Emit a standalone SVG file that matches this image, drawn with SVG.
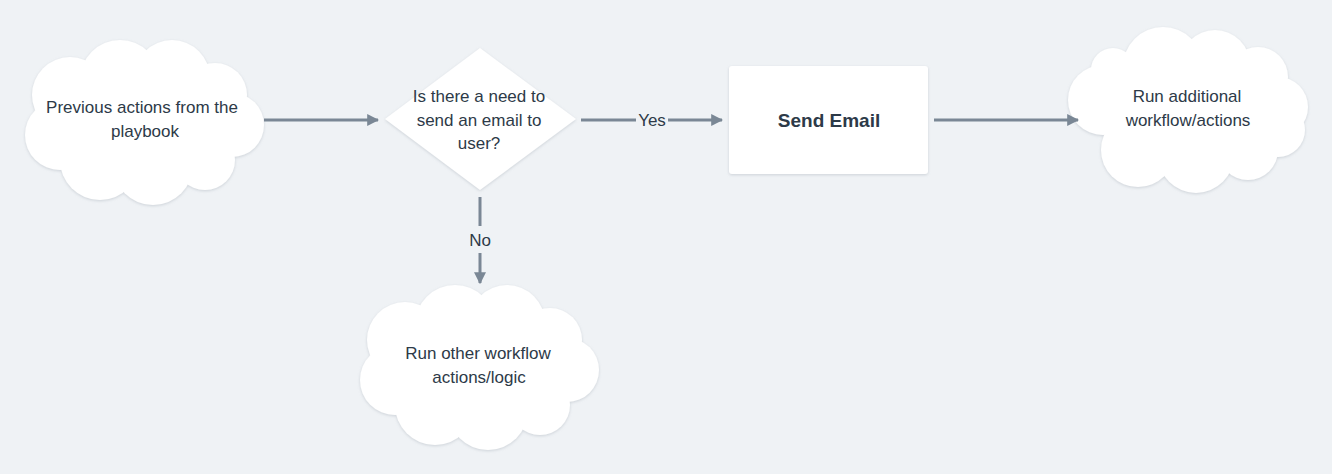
<svg xmlns="http://www.w3.org/2000/svg" width="1332" height="474" viewBox="0 0 1332 474">
<style>
.bg{fill:#eff2f5}
.shape{fill:#ffffff}
.t{font-family:"Liberation Sans",Arial,sans-serif;font-size:17px;fill:#2d3a48;text-anchor:middle}
.tb{font-family:"Liberation Sans",Arial,sans-serif;font-size:19px;font-weight:bold;fill:#2d3a48;text-anchor:middle}
.lbl{font-family:"Liberation Sans",Arial,sans-serif;font-size:17px;fill:#2d3a48;text-anchor:middle}
.c{stroke:#7a8795;stroke-width:3;fill:none}
</style>
<defs>
<filter id="sh" x="-10%" y="-10%" width="120%" height="130%">
<feDropShadow dx="0" dy="1" stdDeviation="1.5" flood-color="#8a96a3" flood-opacity="0.35"/>
</filter>
<marker id="ah" viewBox="0 0 10 10" refX="9" refY="5" markerWidth="4" markerHeight="4" orient="auto" markerUnits="strokeWidth">
<path d="M0,0 L10,5 L0,10 z" fill="#7a8795"/>
</marker>
<g id="cloud">
<circle cx="45" cy="57" r="38"/>
<circle cx="95" cy="42" r="40"/>
<circle cx="147" cy="40" r="38"/>
<circle cx="190" cy="57" r="32"/>
<circle cx="207" cy="87" r="32"/>
<circle cx="35" cy="97" r="35"/>
<circle cx="75" cy="122" r="40"/>
<circle cx="128" cy="127" r="40"/>
<circle cx="180" cy="122" r="30"/>
<ellipse cx="120" cy="87" rx="90" ry="55"/>
</g>
<g id="cloud2">
<circle cx="45" cy="45" r="22"/>
<circle cx="95" cy="42" r="40"/>
<circle cx="147" cy="40" r="35"/>
<circle cx="190" cy="52" r="30"/>
<circle cx="210" cy="82" r="30"/>
<circle cx="210" cy="105" r="27"/>
<circle cx="35" cy="75" r="35"/>
<circle cx="70" cy="125" r="37"/>
<circle cx="128" cy="130" r="38"/>
<circle cx="180" cy="125" r="30"/>
<ellipse cx="125" cy="90" rx="85" ry="52"/>
</g>
</defs>
<rect class="bg" x="0" y="0" width="1332" height="474"/>

<g id="node-previous">
<use href="#cloud" class="shape" transform="translate(25,38)" filter="url(#sh)"/>
<text class="t" x="142" y="113">Previous actions from the</text>
<text class="t" x="145" y="137">playbook</text>
</g>

<g id="node-decision">
<polygon class="shape" points="480,48 576,119 480,190 385,119" filter="url(#sh)"/>
<text class="t" x="479" y="102">Is there a need to</text>
<text class="t" x="479" y="126">send an email to</text>
<text class="t" x="479" y="149">user?</text>
</g>

<g id="node-send">
<rect class="shape" x="729" y="66" width="199" height="108" rx="3" filter="url(#sh)"/>
<text class="tb" x="829" y="127">Send Email</text>
</g>

<g id="node-additional">
<use href="#cloud2" class="shape" transform="translate(1068,25)" filter="url(#sh)"/>
<text class="t" x="1187" y="102">Run additional</text>
<text class="t" x="1188" y="126">workflow/actions</text>
</g>

<g id="node-other">
<use href="#cloud" class="shape" transform="translate(360,283)" filter="url(#sh)"/>
<text class="t" x="478" y="359">Run other workflow</text>
<text class="t" x="479" y="383">actions/logic</text>
</g>

<g id="connectors">
<line class="c" x1="264" y1="120" x2="378" y2="120" marker-end="url(#ah)"/>
<line class="c" x1="581" y1="120" x2="636" y2="120"/>
<line class="c" x1="668" y1="120" x2="722" y2="120" marker-end="url(#ah)"/>
<text class="lbl" x="652" y="126">Yes</text>
<line class="c" x1="934" y1="120" x2="1078" y2="120" marker-end="url(#ah)"/>
<line class="c" x1="480" y1="197" x2="480" y2="226"/>
<line class="c" x1="480" y1="253" x2="480" y2="283" marker-end="url(#ah)"/>
<text class="lbl" x="480" y="246">No</text>
</g>
</svg>
